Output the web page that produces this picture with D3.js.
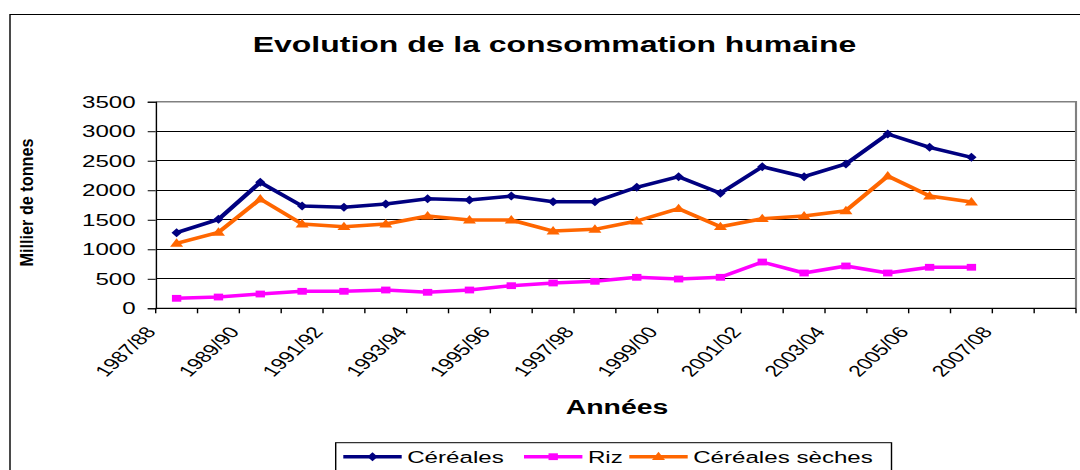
<!DOCTYPE html>
<html>
<head>
<meta charset="utf-8">
<script src="https://cdn.jsdelivr.net/npm/d3@7"></script>
<style>
  body { margin: 0; background: #fff; }
  svg { display: block; font-family: "Liberation Sans", Arial, sans-serif; }
</style>
</head>
<body>
<div id="plot"></div>
<script>
// data
const years = ["1987/88", "1988/89", "1989/90", "1990/91", "1991/92", "1992/93", "1993/94",
    "1994/95", "1995/96", "1996/97", "1997/98", "1998/99", "1999/00", "2000/01", "2001/02",
    "2002/03", "2003/04", "2004/05", "2005/06", "2006/07", "2007/08", "2008/09"];
const cereales = [1281, 1508, 2134, 1733, 1711, 1767, 1857, 1835, 1902, 1806,
    1806, 2050, 2229, 1948, 2399, 2229, 2445, 2953, 2727, 2558];
const riz = [169, 191, 242, 288, 288, 310, 271, 310, 383, 429,
    457, 525, 496, 525, 784, 598, 717, 598, 695, 695];
const cerealesSeches = [1101, 1287, 1852, 1428, 1382, 1428, 1564, 1496, 1496, 1309,
    1338, 1479, 1687, 1382, 1518, 1564, 1653, 2241, 1902, 1801];
const yTicks = [0, 500, 1000, 1500, 2000, 2500, 3000, 3500];
const seriesNames = ["Céréales", "Riz", "Céréales sèches"];

// the source picture is stretched sideways, so draw in a narrower box and stretch it
const SX = 1.42;
const W = 1080, H = 470;
const px = v => v / SX;

const series = [
    { name: seriesNames[0], values: cereales, color: "#000080", marker: "diamond" },
    { name: seriesNames[1], values: riz, color: "#ff00ff", marker: "square" },
    { name: seriesNames[2], values: cerealesSeches, color: "#ff6600", marker: "triangle" }
];

const svg = d3.select("#plot").append("svg")
    .attr("width", W)
    .attr("height", H)
    .attr("viewBox", `0 0 ${W / SX} ${H}`)
    .attr("preserveAspectRatio", "none");

const plot = { left: 155.7, right: 1076, top: 101.7, bottom: 308.3 };

const x = d3.scaleBand()
    .domain(years)
    .range([px(plot.left), px(plot.right)])
    .padding(0);

const y = d3.scaleLinear()
    .domain([0, 3500])
    .range([plot.bottom, plot.top]);

// outer chart frame
svg.append("rect")
    .attr("x", px(10)).attr("y", 14.5)
    .attr("width", px(1100)).attr("height", 500)
    .attr("fill", "none").attr("stroke", "#000").attr("stroke-width", 1);

// title
svg.append("text")
    .attr("x", px(554.5)).attr("y", 51.7)
    .attr("text-anchor", "middle")
    .style("font-size", "22.5px").style("font-weight", "bold")
    .text("Evolution de la consommation humaine");

// gridlines
svg.append("g")
    .selectAll("line")
    .data(yTicks.filter(d => d > 0 && d < 3500))
    .enter().append("line")
    .attr("x1", px(plot.left)).attr("x2", px(plot.right))
    .attr("y1", d => y(d)).attr("y2", d => y(d))
    .attr("stroke", "#000").attr("stroke-width", 1)
    .attr("shape-rendering", "crispEdges");

// plot area border (top & right in gray)
svg.append("path")
    .attr("d", `M${px(plot.left)},${y(3500)}H${px(plot.right)}V${plot.bottom}`)
    .attr("fill", "none").attr("stroke", "#808080").attr("stroke-width", 1.5);

// y axis
const yAxis = svg.append("g")
    .attr("transform", `translate(${px(plot.left)},0)`)
    .call(d3.axisLeft(y).tickValues(yTicks).tickSize(px(8)).tickPadding(px(12)).tickFormat(d3.format("d")));
yAxis.select(".domain").attr("stroke", "#000");
yAxis.selectAll("text")
    .style("font-size", "17px")
    .style("font-family", "\"Liberation Sans\", Arial, sans-serif")
    .attr("fill", "#000");

// x axis with ticks at each category boundary
const xAxis = svg.append("g")
    .attr("transform", `translate(0,${plot.bottom})`);
xAxis.append("line")
    .attr("x1", px(plot.left)).attr("x2", px(plot.right))
    .attr("stroke", "#000").attr("stroke-width", 1.3);
const bounds = years.map(d => x(d)).concat([x.range()[1]]);
xAxis.selectAll(".tick")
    .data(bounds)
    .enter().append("line")
    .attr("x1", d => d).attr("x2", d => d)
    .attr("y1", 0).attr("y2", 5)
    .attr("stroke", "#000").attr("stroke-width", 1);
xAxis.selectAll(".lab")
    .data(years.filter((d, i) => i % 2 === 0))
    .enter().append("text")
    .attr("text-anchor", "end")
    .attr("transform", d => `translate(${x(d) + px(1)},24) rotate(-52)`)
    .style("font-size", "16px")
    .text(d => d);

// axis titles
svg.append("text")
    .attr("text-anchor", "middle")
    .attr("transform", `translate(${px(33)},202.5) rotate(-90)`)
    .attr("textLength", 128).attr("lengthAdjust", "spacingAndGlyphs")
    .style("font-size", "12.5px").style("font-weight", "bold")
    .text("Millier de tonnes");

svg.append("text")
    .attr("x", px(617)).attr("y", 414)
    .attr("text-anchor", "middle")
    .style("font-size", "20px").style("font-weight", "bold")
    .text("Années");

// markers
function markerPath(type) {
    if (type === "diamond") return "M0,-4.5L3.6,0L0,4.5L-3.6,0Z";
    if (type === "square") return "M-3.3,-3.4H3.3V3.4H-3.3Z";
    return "M0,-5L4.6,3.4H-4.6Z";
}

const line = d3.line()
    .x((d, i) => x(years[i]) + x.bandwidth() / 2)
    .y(d => y(d));

series.forEach(s => {
    const g = svg.append("g");
    g.append("path")
        .datum(s.values)
        .attr("d", line)
        .attr("fill", "none")
        .attr("stroke", s.color)
        .attr("stroke-width", 3.5)
        .attr("stroke-linejoin", "round");
    g.selectAll("path.m")
        .data(s.values)
        .enter().append("path")
        .attr("class", "m")
        .attr("d", markerPath(s.marker))
        .attr("transform", (d, i) => `translate(${x(years[i]) + x.bandwidth() / 2},${y(d)})`)
        .attr("fill", s.color);
});

// legend
const legendX = [343.3, 524, 629.3];
const legend = svg.append("g");
legend.append("rect")
    .attr("x", px(335.7)).attr("y", 442.7)
    .attr("width", px(891.5 - 335.7)).attr("height", 60)
    .attr("fill", "none").attr("stroke", "#000").attr("stroke-width", 1);
series.forEach((s, i) => {
    const lx = px(legendX[i]), lw = px(58.4), ly = 456.7;
    legend.append("line")
        .attr("x1", lx).attr("x2", lx + lw)
        .attr("y1", ly).attr("y2", ly)
        .attr("stroke", s.color).attr("stroke-width", 3.5);
    legend.append("path")
        .attr("d", markerPath(s.marker))
        .attr("transform", `translate(${lx + lw / 2},${ly})`)
        .attr("fill", s.color);
    legend.append("text")
        .attr("x", lx + lw + px(5.5)).attr("y", ly)
        .attr("dy", "0.36em")
        .style("font-size", "17px")
        .text(s.name);
});
</script>
</body>
</html>
